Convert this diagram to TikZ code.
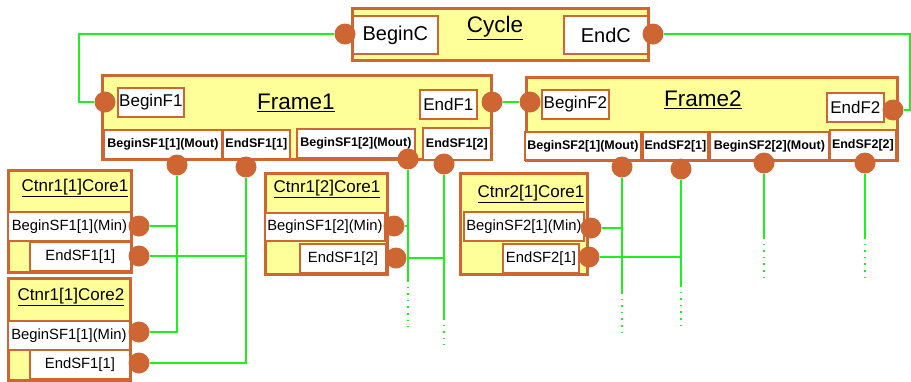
\documentclass[tikz,border=0pt]{standalone}
\usepackage{fontspec}
\setmainfont{Liberation Sans}
\definecolor{orc}{RGB}{205,102,51}
\definecolor{yel}{RGB}{255,255,153}
\definecolor{grn}{RGB}{30,240,30}
\newcommand\bx[7]{\node[#1,minimum width={#4pt-#2pt},minimum height={#5pt-#3pt}] (#6) at (#2,#3) {#7};}
\begin{document}
\begin{tikzpicture}[x=1pt,y=-1pt,
  ybox/.style={draw=orc, line width=3pt, fill=yel, inner sep=0pt, anchor=north west},
  wbox/.style={draw=orc, line width=1.8pt, fill=white, inner sep=0pt, anchor=north west},
  cport/.style={wbox, font=\fontsize{20}{24}\selectfont},
  fport/.style={wbox, font=\fontsize{17}{20}\selectfont},
  mbox/.style={wbox, font=\bfseries\fontsize{12.5}{15}\selectfont},
  kbox/.style={wbox, font=\fontsize{14.8}{17}\selectfont},
  ttl/.style={inner sep=0pt, font=\fontsize{22.5}{26}\selectfont},
  kttl/.style={inner sep=0pt, font=\fontsize{17}{20}\selectfont},
  port/.style={circle, fill=orc, minimum size=21pt, inner sep=0pt},
  wire/.style={draw=grn, line width=1.6pt},
  dwire/.style={draw=grn, line width=1.6pt, dash pattern=on 1.6pt off 5pt}]
\useasboundingbox (0,0) rectangle (911,381);
% Cycle
\bx{ybox}{351}{7}{647}{59}{cyc}{}
\node[ttl] (cyct) at (495,28) {\underline{Cycle}};
\bx{cport}{352}{15}{437}{53}{cbeg}{BeginC}
\bx{cport}{563}{15}{647}{53}{cend}{EndC}
\node[port] (pcB) at (345,34) {};
\node[port] (pcE) at (653,34) {};
% Frame1
\bx{ybox}{101}{74}{490}{158}{fr1}{}
\node[ttl] (fr1t) at (296,103) {\underline{Frame1}};
\bx{fport}{117}{87}{183}{116}{f1beg}{BeginF1}
\bx{fport}{419}{89}{476}{118}{f1end}{EndF1}
\bx{mbox}{103}{129}{221}{158}{s11b}{BeginSF1[1](Mout)}
\bx{mbox}{222}{129}{289}{158}{s11e}{EndSF1[1]}
\bx{mbox}{296}{128}{414}{157}{s12b}{BeginSF1[2](Mout)}
\bx{mbox}{422}{127}{490}{159}{s12e}{EndSF1[2]}
\node[port] (pf1B) at (105,102) {};
\node[port] (pf1E) at (492,102) {};
\node[port] (ps11b) at (177,165) {};
\node[port] (ps11e) at (246,167) {};
\node[port] (ps12b) at (408,159) {};
\node[port] (ps12e) at (444,164) {};
% Frame2
\bx{ybox}{525}{76}{896}{159}{fr2}{}
\node[ttl] (fr2t) at (703,100) {\underline{Frame2}};
\bx{fport}{541}{89}{608}{118}{f2beg}{BeginF2}
\bx{fport}{826}{92}{883}{121}{f2end}{EndF2}
\bx{mbox}{524}{131}{640}{159}{s21b}{BeginSF2[1](Mout)}
\bx{mbox}{642}{131}{707}{159}{s21e}{EndSF2[1]}
\bx{mbox}{709}{131}{828}{159}{s22b}{BeginSF2[2](Mout)}
\bx{mbox}{829}{129}{895}{159}{s22e}{EndSF2[2]}
\node[port] (pf2B) at (530,102) {};
\node[port] (pf2E) at (893,110) {};
\node[port] (ps21b) at (622,167) {};
\node[port] (ps21e) at (681,169) {};
\node[port] (ps22b) at (764,163) {};
\node[port] (ps22e) at (865,163) {};
% Ctnr1[1]Core1
\bx{ybox}{7}{169}{130}{271}{k1}{}
\node[kttl] (k1t) at (75,188) {\underline{Ctnr1[1]Core1}};
\bx{kbox}{7}{211}{130}{240}{k1b}{BeginSF1[1](Min)}
\bx{kbox}{29}{241}{130}{270}{k1e}{EndSF1[1]}
\node[port] (pk1b) at (139,226) {};
\node[port] (pk1e) at (139,256) {};
% Ctnr1[1]Core2
\bx{ybox}{7}{277}{129}{379}{k2}{}
\node[kttl] (k2t) at (71,297) {\underline{Ctnr1[1]Core2}};
\bx{kbox}{7}{320}{129}{349}{k2b}{BeginSF1[1](Min)}
\bx{kbox}{29}{349}{129}{378}{k2e}{EndSF1[1]}
\node[port] (pk2b) at (139,332) {};
\node[port] (pk2e) at (139,363) {};
% Ctnr1[2]Core1
\bx{ybox}{264}{172}{386}{273}{k3}{}
\node[kttl] (k3t) at (327,189) {\underline{Ctnr1[2]Core1}};
\bx{kbox}{264}{212}{384}{240}{k3b}{BeginSF1[2](Min)}
\bx{kbox}{299}{243}{385}{272}{k3e}{EndSF1[2]}
\node[port] (pk3b) at (394,226) {};
\node[port] (pk3e) at (396,258) {};
% Ctnr2[1]Core1
\bx{ybox}{459}{172}{586}{273}{k4}{}
\node[kttl] (k4t) at (531,194) {\underline{Ctnr2[1]Core1}};
\bx{kbox}{463}{211}{583}{240}{k4b}{BeginSF2[1](Min)}
\bx{kbox}{502}{243}{578}{272}{k4e}{EndSF2[1]}
\node[port] (pk4b) at (591,228) {};
\node[port] (pk4e) at (589,257) {};
% free ends
\coordinate (w1) at (79,34);
\coordinate (w2) at (910,34);
\coordinate (e1) at (408,280); \coordinate (e1d) at (408,327);
\coordinate (e2) at (444,318); \coordinate (e2d) at (444,345);
\coordinate (e3) at (622,292); \coordinate (e3d) at (622,333);
\coordinate (e4) at (681,285); \coordinate (e4d) at (681,325);
\coordinate (e5) at (764,237); \coordinate (e5d) at (764,277);
\coordinate (e6) at (865,237); \coordinate (e6d) at (865,277);
% wires
\draw[wire] (pcB) -- (w1) |- (pf1B);
\draw[wire] (pcE) -- (w2) |- (pf2E);
\draw[wire] (pf1E) -- (pf2B);
\draw[wire] (ps11b) |- (pk2b);
\draw[wire] (pk1b) -| (ps11b);
\draw[wire] (ps11e) |- (pk2e);
\draw[wire] (pk1e) -| (ps11e);
\draw[wire] (ps12b) -- (e1); \draw[dwire] (e1) -- (e1d);
\draw[wire] (pk3b) -| (ps12b);
\draw[wire] (ps12e) -- (e2); \draw[dwire] (e2) -- (e2d);
\draw[wire] (pk3e) -| (ps12e);
\draw[wire] (ps21b) -- (e3); \draw[dwire] (e3) -- (e3d);
\draw[wire] (pk4b) -| (ps21b);
\draw[wire] (ps21e) -- (e4); \draw[dwire] (e4) -- (e4d);
\draw[wire] (pk4e) -| (ps21e);
\draw[wire] (ps22b) -- (e5); \draw[dwire] (e5) -- (e5d);
\draw[wire] (ps22e) -- (e6); \draw[dwire] (e6) -- (e6d);
\end{tikzpicture}
\end{document}
